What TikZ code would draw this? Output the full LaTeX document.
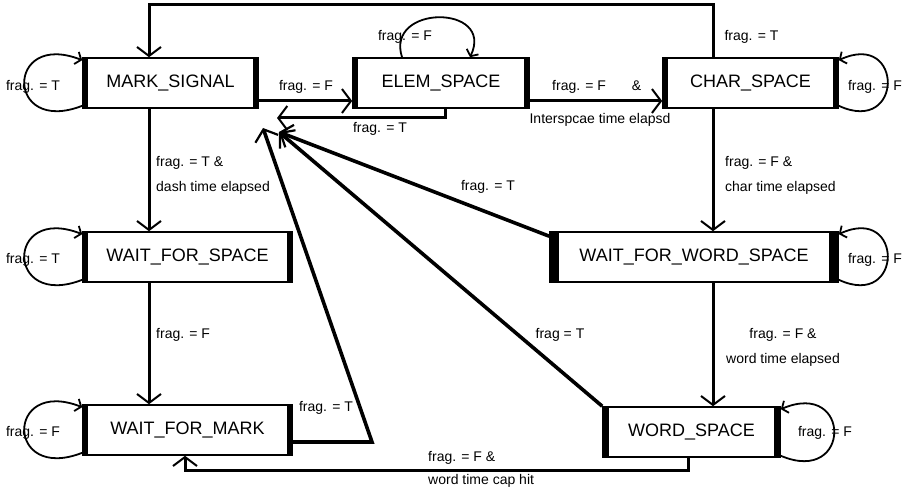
\documentclass[tikz,border=0pt]{standalone}
\usepackage{fontspec}
\setmainfont{Liberation Sans}
\usetikzlibrary{arrows.meta,calc}
\tikzset{
 state/.style={draw, line width=1.6pt, minimum height=50pt, inner sep=0pt, font=\fontsize{18}{20}\selectfont},
 lbl/.style={inner sep=0pt, font=\fontsize{14}{16}\selectfont},
 conn/.style={line width=3pt, -{Straight Barb[length=9pt,width=24pt,line width=2pt]}},
 diag/.style={line width=3.6pt, -{Straight Barb[length=10pt,width=24pt,line width=2.2pt]}},
 selfloop/.style={line width=1.8pt, -{Straight Barb[length=5pt,width=13pt,line width=1.8pt]}},
}
\newcommand\sidebars[2]{%
 \fill (#1.north west) rectangle ($(#1.south west)+(#2,0)$);
 \fill (#1.north east) rectangle ($(#1.south east)+(-#2,0)$);}
\begin{document}
\begin{tikzpicture}[x=1pt,y=-1pt]
\fill[white] (0,0) rectangle (907,492);
\useasboundingbox (0,0) rectangle (907,492);
% states
\node[state, minimum width=175pt] (MS) at (170.5,83) {MARK\_SIGNAL};
\node[state, minimum width=176pt] (ES) at (441,83) {ELEM\_SPACE};
\node[state, minimum width=175pt] (CS) at (750.5,83) {CHAR\_SPACE};
\node[state, minimum width=209pt] (WFS) at (187.5,257) {WAIT\_FOR\_SPACE};
\node[state, minimum width=209pt] (WFM) at (187.5,430) {WAIT\_FOR\_MARK};
\node[state, minimum width=288pt] (WFWS) at (694,257) {WAIT\_FOR\_WORD\_SPACE};
\node[state, minimum width=177pt] (WS) at (691.5,432) {WORD\_SPACE};
\sidebars{MS}{6}
\sidebars{ES}{6}
\sidebars{CS}{6}
\sidebars{WFS}{6}
\sidebars{WFM}{6}
\sidebars{WFWS}{10}
\sidebars{WS}{7}
% helper coordinates
\coordinate (cL) at (149,0);
\coordinate (cR) at (713,0);
\coordinate (row) at (0,101);
\coordinate (topY) at (0,5);
\coordinate (esx) at (445,0);
\coordinate (fbT) at (277,118);
\coordinate (tipA) at (279,132);
\coordinate (tipB) at (263,128);
\coordinate (wfmR) at (372,442);
\coordinate (wsx) at (688,470);
\coordinate (wfmx) at (185,470);
\coordinate (esl1) at (402,0);
\coordinate (esl2) at (470,0);
% connectors
\draw[conn] (MS.south -| cL) -- (WFS.north -| cL);
\draw[conn] (WFS.south -| cL) -- (WFM.north -| cL);
\draw[conn] (CS.south -| cR) -- (WFWS.north -| cR);
\draw[conn] (WFWS.south -| cR) -- (WS.north -| cR);
\draw[conn] (MS.east |- row) -- (ES.west |- row);
\draw[conn] (ES.east |- row) -- (CS.west |- row);
\draw[conn] (CS.north -| cR) -- (cR |- topY) -- (cL |- topY) -- (MS.north -| cL);
\draw[conn] (ES.south -| esx) |- (fbT);
\draw[diag] ($(WFWS.north west)+(0,5)$) -- (tipA);
\draw[diag] (WS.north west) -- (tipA);
\draw[diag] (WFM.east |- wfmR) -- (wfmR) -- (tipB);
\draw[conn] (WS.south -| wsx) -- (wsx) -- (wfmx) -- (WFM.south -| wfmx);
% self loops
\draw[selfloop] ($(MS.south west)+(0,-3)$) .. controls +(-77,30) and +(-77,-30) .. ($(MS.north west)+(0,3)$);
\draw[selfloop] ($(WFS.south west)+(0,-3)$) .. controls +(-77,30) and +(-77,-30) .. ($(WFS.north west)+(0,3)$);
\draw[selfloop] ($(WFM.south west)+(0,-3)$) .. controls +(-77,30) and +(-77,-30) .. ($(WFM.north west)+(0,3)$);
\draw[selfloop] ($(CS.south east)+(0,-3)$) .. controls +(65,30) and +(65,-30) .. ($(CS.north east)+(0,3)$);
\draw[selfloop] ($(WFWS.south east)+(0,-3)$) .. controls +(65,30) and +(65,-30) .. ($(WFWS.north east)+(0,3)$);
\draw[selfloop] ($(WS.south east)+(0,-2)$) .. controls +(71,30) and +(71,-30) .. ($(WS.north east)+(0,3)$);
\draw[selfloop] (ES.north -| esl1) .. controls +(-17,-53) and +(25,-53) .. (ES.north -| esl2);
% labels
\node[lbl] (l1) at (33,87) {frag. = T};
\node[lbl] (l2) at (306,87) {frag. = F};
\node[lbl] (l3) at (380,129) {frag. = T};
\node[lbl] (l4) at (405,37) {frag. = F};
\node[lbl, anchor=west] (l5a) at (156,163) {frag. = T \&};
\node[lbl, anchor=west] (l5b) at (156,188) {dash time elapsed};
\node[lbl, anchor=west] (l6) at (552,87) {frag. = F\hspace{22pt} \&};
\node[lbl] (l7) at (600,120) {Interspcae time elapsd};
\node[lbl] (l8) at (751.5,37) {frag. = T};
\node[lbl] (l9) at (875,87) {frag. = F};
\node[lbl, anchor=west] (l10a) at (725,163) {frag. = F \&};
\node[lbl, anchor=west] (l10b) at (725,188) {char time elapsed};
\node[lbl] (l11) at (488,187) {frag. = T};
\node[lbl] (l12) at (33,260) {frag. = T};
\node[lbl, anchor=west] (l13) at (156,335) {frag. = F};
\node[lbl] (l14) at (33,433) {frag. = F};
\node[lbl] (l15) at (326,408) {frag. = T};
\node[lbl, anchor=west] (l16a) at (428,458) {frag. = F \&};
\node[lbl, anchor=west] (l16b) at (428,481) {word time cap hit};
\node[lbl] (l17) at (875,260) {frag. = F};
\node[lbl] (l18) at (560,335) {frag = T};
\node[lbl] (l19a) at (783,335) {frag. = F \&};
\node[lbl] (l19b) at (783,360) {word time elapsed};
\node[lbl] (l20) at (825,433) {frag. = F};
\end{tikzpicture}
\end{document}
